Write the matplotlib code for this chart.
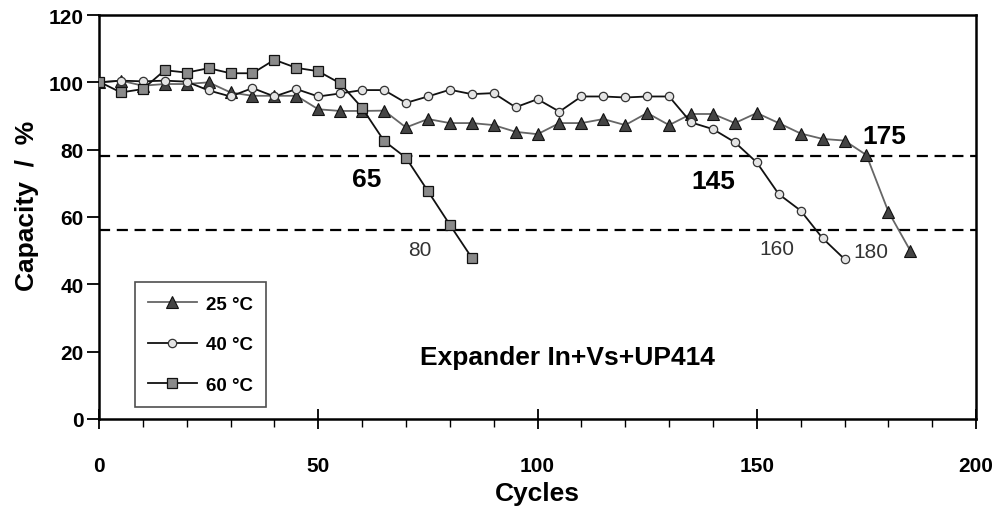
import numpy as np
import matplotlib
matplotlib.use('Agg')
import matplotlib.pyplot as plt
from matplotlib.ticker import MultipleLocator

plt.rcParams['font.family'] = ['Liberation Sans', 'DejaVu Sans']

# capacity retention (%) every 5 cycles
cyc_25 = np.arange(0, 190, 5)
cap_25 = [100, 100.5, 99, 99.5, 99.5, 100, 97, 96, 96, 96, 92, 91.5, 91.5, 91.6,
          86.6, 89.1, 87.9, 87.9, 87.3, 85.3, 84.6, 87.9, 87.9, 89.1, 87.3, 90.9,
          87.3, 90.6, 90.6, 87.9, 90.9, 87.9, 84.8, 83.2, 82.7, 78.4, 61.6, 50.0]

cyc_40 = np.arange(0, 175, 5)
cap_40 = [100, 100.5, 100.3, 100.5, 100.2, 97.6, 95.8, 98.3, 95.8, 98, 95.8, 96.7,
          97.7, 97.7, 93.9, 95.8, 97.8, 96.5, 96.8, 92.6, 95, 91.3, 95.8, 95.8,
          95.5, 95.8, 95.8, 88.1, 86.1, 82.2, 76.2, 66.8, 61.9, 53.7, 47.5]

cyc_60 = np.arange(0, 90, 5)
cap_60 = [100.2, 97, 98, 103.6, 102.9, 104.2, 102.7, 102.7, 106.7, 104.3, 103.3,
          99.7, 92.4, 82.6, 77.6, 67.7, 57.7, 47.9]

limits = [78, 56]  # dashed reference levels

fig = plt.figure(figsize=(9.97, 5.10), dpi=100)
ax = fig.add_axes([0.0993, 0.1765, 0.8797, 0.7921])

ax.plot(cyc_25, cap_25, color='#666666', lw=1.3, marker='^', ms=8,
        mfc='#444444', mec='#111111', mew=0.8, label='25 °C', zorder=3)
ax.plot(cyc_40, cap_40, color='#111111', lw=1.3, marker='o', ms=6,
        mfc='#e4e4e4', mec='#333333', mew=0.9, label='40 °C', zorder=4)
ax.plot(cyc_60, cap_60, color='#111111', lw=1.3, marker='s', ms=7,
        mfc='#8a8a8a', mec='#111111', mew=0.9, label='60 °C', zorder=5)

for lv in limits:
    ax.axhline(lv, color='black', lw=1.6, ls=(0, (5, 3)), zorder=2)

# cycle numbers where the limits are crossed
for x, y, s in [(61.0, 71.3, '65'), (140.1, 70.8, '145'), (179.0, 84, '175')]:
    ax.text(x, y, s, fontsize=19, fontweight='bold', ha='center', va='center')
for x, y, s in [(73.2, 50.3, '80'), (154.5, 50.7, '160'), (176.0, 49.7, '180')]:
    ax.text(x, y, s, fontsize=15, color='#333333', ha='center', va='center')

ax.text(106.8, 18.4, 'Expander In+Vs+UP414', fontsize=19, fontweight='bold',
        ha='center', va='center')

ax.set_xlim(0, 200)
ax.set_ylim(0, 120)
ax.xaxis.set_major_locator(MultipleLocator(50))
ax.xaxis.set_minor_locator(MultipleLocator(10))
ax.yaxis.set_major_locator(MultipleLocator(20))

ax.tick_params(axis='x', which='major', direction='inout', length=14, width=1.3,
               pad=20)
ax.tick_params(axis='x', which='minor', direction='out', length=6, width=1.0)
ax.tick_params(axis='y', which='major', direction='out', length=9, width=1.3,
               pad=2)
for lab in ax.get_xticklabels() + ax.get_yticklabels():
    lab.set_fontweight('bold')
    lab.set_fontsize(15)

for sp in ax.spines.values():
    sp.set_linewidth(1.8)

ax.set_xlabel('Cycles', fontsize=19, fontweight='bold', labelpad=4)
ax.set_ylabel('Capacity  /  %', fontsize=19, fontweight='bold')
ax.yaxis.set_label_coords(-0.068, 0.53)

leg = ax.legend(loc='lower left', bbox_to_anchor=(0.041, 0.03), fontsize=13.5,
                frameon=True, fancybox=False, edgecolor='#222222',
                handlelength=2.6, labelspacing=1.25, borderpad=0.7,
                handletextpad=0.5, borderaxespad=0)
leg.get_frame().set_linewidth(1.2)
for t in leg.get_texts():
    t.set_fontweight('bold')

fig.savefig('out.png', dpi=100)
